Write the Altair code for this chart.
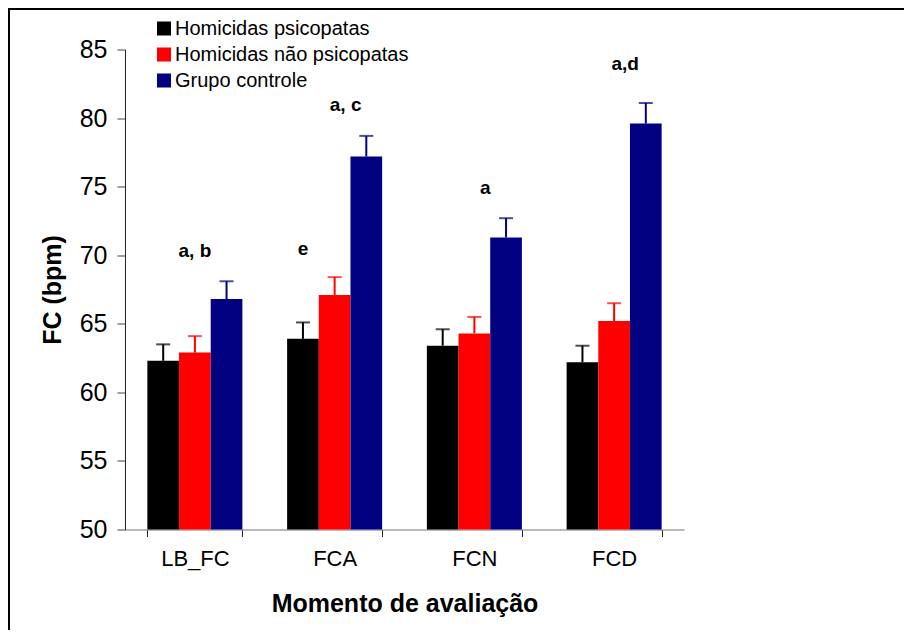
import pandas as pd
import altair as alt

# Heart rate (bpm) by assessment moment and group
moments = ["LB_FC", "FCA", "FCN", "FCD"]
groups = ["Homicidas psicopatas", "Homicidas não psicopatas", "Grupo controle"]
colors = ["#000000", "#FF0000", "#000080"]

psico_mean = [62.3, 63.9, 63.4, 62.2]
psico_se = [1.2, 1.2, 1.2, 1.2]
nao_psico_mean = [62.9, 67.1, 64.3, 65.2]
nao_psico_se = [1.2, 1.3, 1.2, 1.3]
controle_mean = [66.8, 77.2, 71.3, 79.6]
controle_se = [1.3, 1.5, 1.4, 1.5]

# significance letters
ann_text = ["a, b", "e", "a, c", "a", "a,d"]
ann_moment = ["LB_FC", "FCA", "FCA", "FCN", "FCD"]
ann_group = ["Homicidas não psicopatas", "Homicidas psicopatas",
             "Homicidas não psicopatas", "Homicidas não psicopatas",
             "Homicidas não psicopatas"]
ann_y = [69.9, 70.0, 80.5, 74.5, 83.5]
ann_shift = [False, False, True, True, True]

rows = []
for g, means, ses in zip(groups,
                         [psico_mean, nao_psico_mean, controle_mean],
                         [psico_se, nao_psico_se, controle_se]):
    for m, v, s in zip(moments, means, ses):
        rows.append({"momento": m, "grupo": g, "fc": v, "sup": round(v + s, 2)})
df = pd.DataFrame(rows)

ann = pd.DataFrame({"momento": ann_moment, "grupo": ann_group,
                    "y": ann_y, "txt": ann_text, "shift": ann_shift})

FONT = "Liberation Sans"
W, H = 559, 480

x_enc = alt.X("momento:N", sort=moments,
              scale=alt.Scale(paddingInner=0.32, paddingOuter=0.16),
              axis=alt.Axis(title="Momento de avaliação", labelAngle=0,
                            labelFontSize=22, labelPadding=12, tickBand="extent",
                            tickSize=7, tickColor="#222", domainColor="#777",
                            titleFontSize=25, titleFontWeight="bold",
                            titleY=74, titleBaseline="middle"))
xoff = alt.XOffset("grupo:N", sort=groups, scale=alt.Scale(domain=groups, paddingInner=0))
y_scale = alt.Scale(domain=[50, 85], nice=False, zero=False)
color = alt.Color("grupo:N", sort=groups,
                  scale=alt.Scale(domain=groups, range=colors),
                  legend=alt.Legend(title=None, orient="none", legendX=29, legendY=-31,
                                    symbolType="square", symbolSize=196,
                                    symbolStrokeWidth=0, symbolOpacity=1,
                                    labelFontSize=20, labelOffset=1, rowPadding=6,
                                    padding=0, labelLimit=400))

bars = alt.Chart(df).mark_bar().encode(
    x=x_enc,
    xOffset=xoff,
    y=alt.Y("fc:Q", scale=y_scale,
            axis=alt.Axis(title="FC (bpm)", values=[50, 55, 60, 65, 70, 75, 80, 85],
                          grid=False, labelFontSize=25, labelPadding=10, tickSize=8,
                          tickColor="#444", domainColor="#222",
                          titleFontSize=25, titleFontWeight="bold",
                          titleX=-73, titleY=H / 2, titleBaseline="middle",
                          titleAlign="center", titleAngle=-90)),
    y2=alt.datum(50),
    color=color,
)

err = alt.Chart(df).mark_rule(strokeWidth=2).encode(
    x=alt.X("momento:N", sort=moments),
    xOffset=xoff,
    y=alt.Y("fc:Q", scale=y_scale),
    y2="sup:Q",
    color=alt.Color("grupo:N", sort=groups, legend=None),
)

caps = alt.Chart(df).mark_tick(size=14, thickness=2).encode(
    x=alt.X("momento:N", sort=moments),
    xOffset=xoff,
    y=alt.Y("sup:Q", scale=y_scale),
    color=alt.Color("grupo:N", sort=groups, legend=None),
)

letters_a = alt.Chart(ann).transform_filter("!datum.shift").mark_text(
    font=FONT, fontSize=19, fontWeight="bold", baseline="alphabetic", color="black"
).encode(
    x=alt.X("momento:N", sort=moments),
    xOffset=alt.XOffset("grupo:N", sort=groups),
    y=alt.Y("y:Q", scale=y_scale),
    text="txt:N",
)

letters_b = alt.Chart(ann).transform_filter("datum.shift").mark_text(
    font=FONT, fontSize=19, fontWeight="bold", baseline="alphabetic", color="black", dx=11
).encode(
    x=alt.X("momento:N", sort=moments),
    xOffset=alt.XOffset("grupo:N", sort=groups),
    y=alt.Y("y:Q", scale=y_scale),
    text="txt:N",
)

# picture frame (left and top edges)
frame_left = alt.Chart(df).mark_rule(color="black", strokeWidth=2).encode(
    x=alt.value(-116), y=alt.value(-41), y2=alt.value(H + 140))
frame_top = alt.Chart(df).mark_rule(color="black", strokeWidth=2).encode(
    x=alt.value(-116), x2=alt.value(W + 240), y=alt.value(-41))

chart = alt.layer(bars, err, caps, letters_a, letters_b, frame_left, frame_top).properties(
    width=W, height=H,
    autosize=alt.AutoSizeParams(type="none"),
    padding={"left": 117, "top": 41.5, "right": 220, "bottom": 100},
).configure(
    font=FONT, background="white"
).configure_view(strokeWidth=0
).configure_axis(labelColor="black", titleColor="black", labelFont=FONT, titleFont=FONT
).configure_legend(labelFont=FONT, labelColor="black")

chart.save("out.html", embed_options={"renderer": "svg", "actions": False})
